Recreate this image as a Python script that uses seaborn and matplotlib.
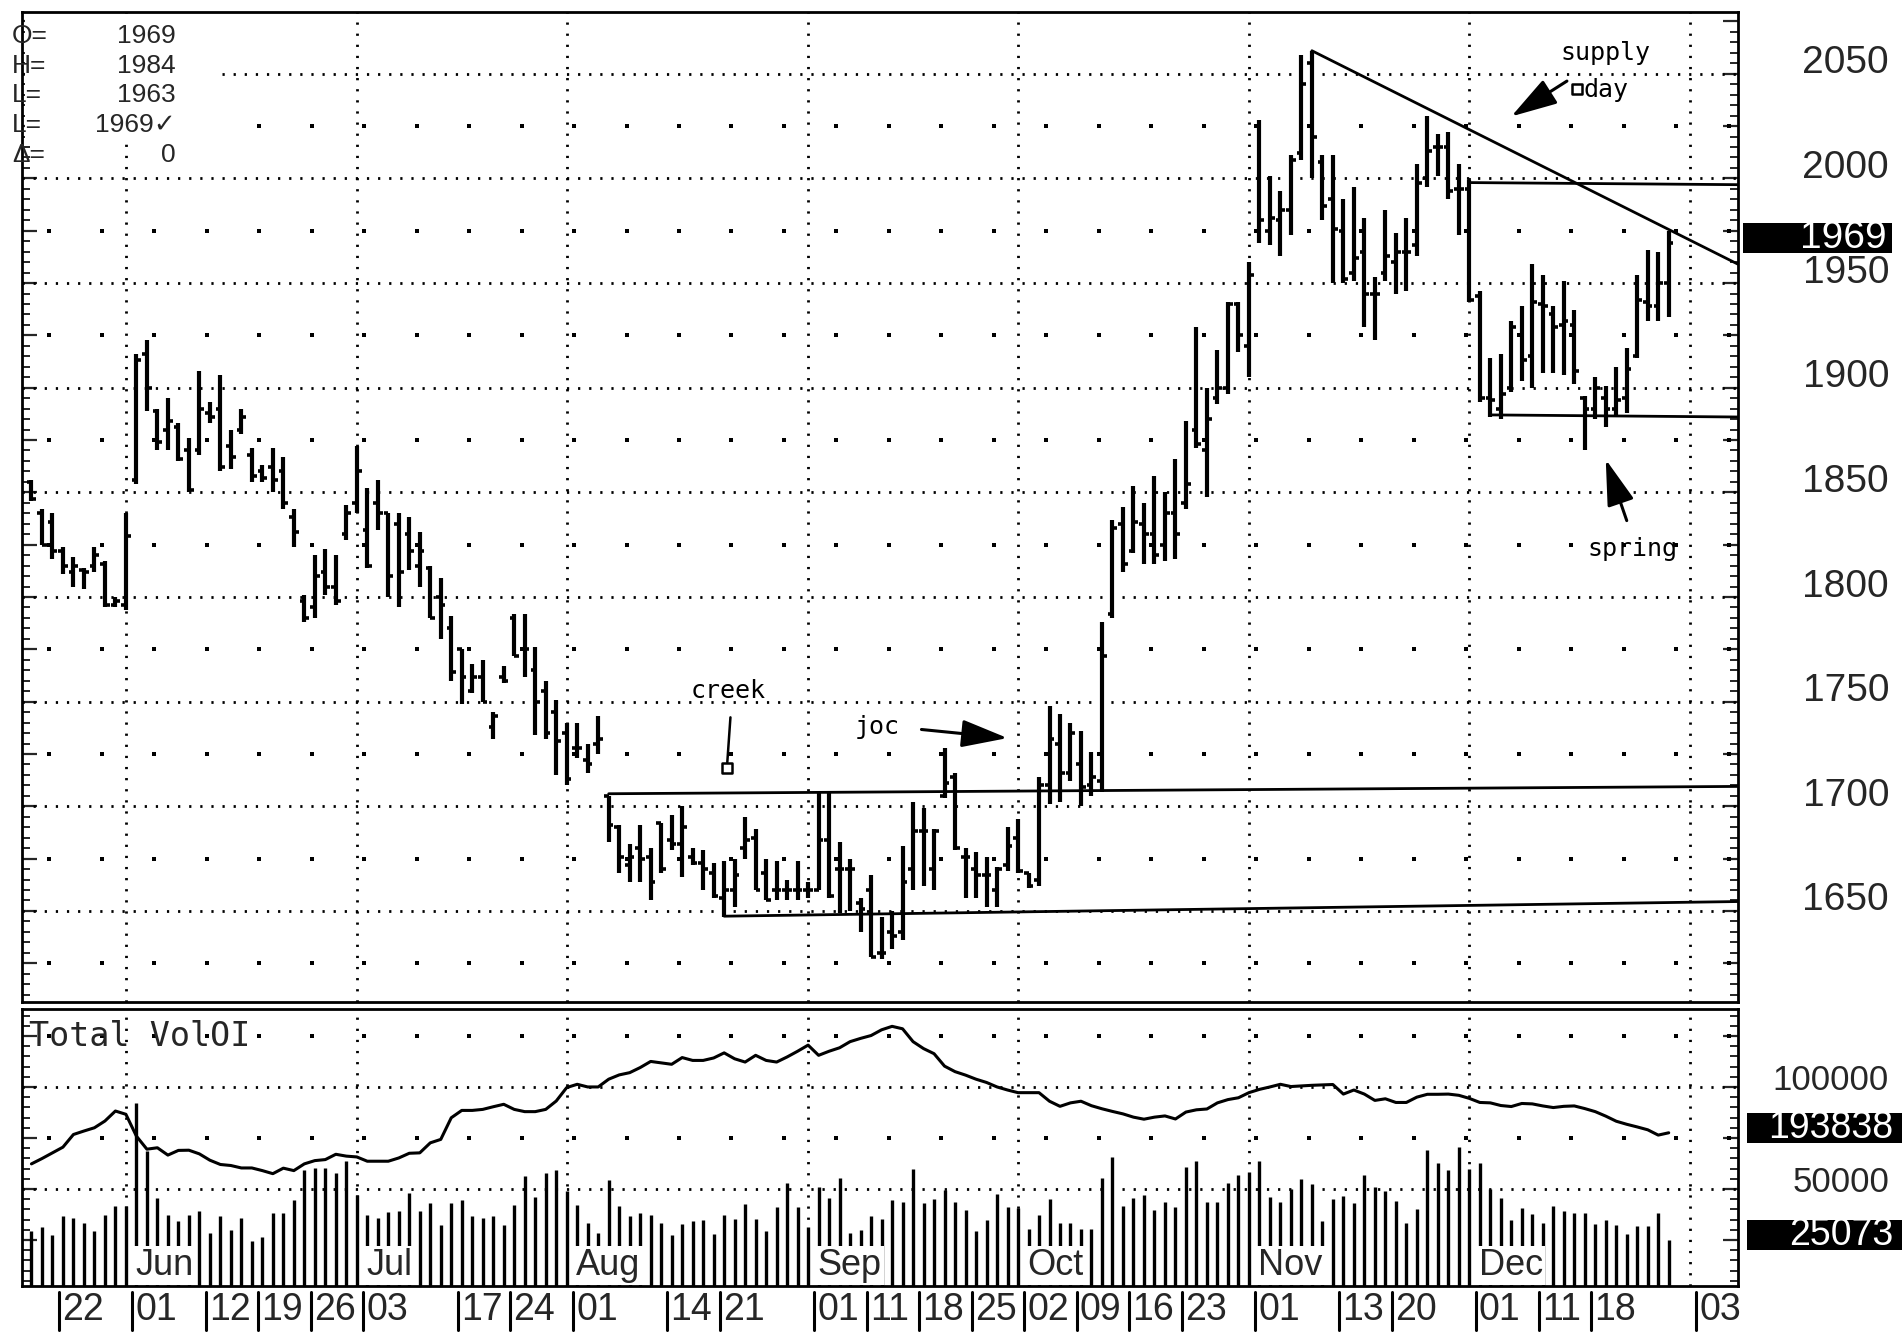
import numpy as np
import matplotlib
matplotlib.use("Agg")
import matplotlib.pyplot as plt
import matplotlib.transforms as mtransforms
from matplotlib.patches import Rectangle
from matplotlib.ticker import MultipleLocator
import seaborn as sns

sns.set_style("white")
plt.rcParams["font.family"] = ["Liberation Sans", "DejaVu Sans"]
NARROW = ["Liberation Sans Narrow", "Liberation Sans", "DejaVu Sans"]
MONO = ["DejaVu Sans Mono", "DejaVu Sans"]

# trading-day index, 0 = May 22 (market holidays skipped)
days = list(range(-2, 155))

opens = [1855, 1840, 1836, 1822, 1812, 1813, 1815, 1816, 1796, 1796, 1856, 1916,
         1889, 1880, 1881, 1870, 1870, 1888, 1890, 1872, 1880, 1868,
         1860, 1862, 1860, 1838, 1798, 1795, 1812, 1805, 1830, 1845,
         1832, 1845, 1840, 1835, 1830, 1815, 1814, 1800, 1785, 1775,
         1755, 1762, 1738, 1762, 1790, 1775, 1765, 1755, 1745, 1735,
         1728, 1722, 1730, 1705, 1690, 1672, 1680, 1676, 1692, 1684,
         1682, 1676, 1673, 1668, 1656, 1660, 1680, 1685, 1668, 1660,
         1660, 1660, 1660, 1660, 1684, 1670, 1670, 1654, 1660, 1630,
         1640, 1640, 1670, 1688, 1670, 1705, 1714, 1676, 1670, 1667,
         1660, 1672, 1685, 1668, 1665, 1710, 1730, 1716, 1720, 1710,
         1712, 1792, 1835, 1822, 1835, 1830, 1825, 1840, 1845, 1880,
         1870, 1895, 1900, 1940, 1920, 1975, 1975, 1980, 1985, 2012,
         2055, 2008, 1990, 1975, 1955, 1965, 1945, 1955, 1960, 1965,
         1968, 2000, 2015, 2015, 1995, 1995, 1944, 1895, 1890, 1900,
         1925, 1915, 1940, 1935, 1930, 1930, 1895, 1890, 1895, 1890,
         1895, 1915, 1941, 1939, 1950]
highs = [1856, 1842, 1840, 1824, 1819, 1814, 1824, 1817, 1800, 1840, 1916, 1923,
         1890, 1895, 1883, 1876, 1908, 1893, 1906, 1880, 1890, 1871,
         1863, 1871, 1867, 1842, 1801, 1820, 1823, 1820, 1844, 1872,
         1852, 1856, 1840, 1840, 1838, 1831, 1815, 1809, 1791, 1775,
         1768, 1770, 1745, 1767, 1792, 1792, 1776, 1760, 1751, 1740,
         1740, 1730, 1743, 1705, 1691, 1682, 1691, 1680, 1692, 1696,
         1700, 1680, 1679, 1673, 1674, 1675, 1695, 1689, 1675, 1674,
         1665, 1674, 1664, 1707, 1707, 1683, 1675, 1656, 1667, 1647,
         1650, 1681, 1702, 1699, 1689, 1728, 1716, 1680, 1678, 1676,
         1671, 1690, 1694, 1668, 1714, 1748, 1744, 1740, 1736, 1726,
         1788, 1837, 1843, 1853, 1845, 1858, 1850, 1866, 1884, 1929,
         1900, 1918, 1941, 1941, 1960, 2028, 2001, 1994, 2011, 2059,
         2061, 2011, 2011, 1990, 1996, 1981, 1953, 1985, 1974, 1981,
         2007, 2030, 2021, 2022, 2007, 1999, 1946, 1914, 1916, 1932,
         1939, 1959, 1954, 1939, 1951, 1937, 1896, 1905, 1901, 1910,
         1919, 1954, 1966, 1965, 1975]
lows = [1846, 1825, 1818, 1811, 1805, 1804, 1812, 1795, 1795, 1794, 1854, 1889,
        1870, 1870, 1865, 1850, 1868, 1883, 1860, 1861, 1878, 1855,
        1855, 1850, 1842, 1824, 1788, 1790, 1801, 1796, 1827, 1840,
        1814, 1832, 1800, 1795, 1813, 1805, 1790, 1780, 1760, 1749,
        1754, 1750, 1732, 1759, 1772, 1762, 1734, 1732, 1715, 1710,
        1723, 1716, 1725, 1683, 1668, 1664, 1664, 1655, 1668, 1679,
        1666, 1672, 1660, 1656, 1647, 1652, 1675, 1660, 1655, 1655,
        1655, 1655, 1656, 1660, 1656, 1649, 1650, 1640, 1628, 1627,
        1632, 1636, 1660, 1662, 1660, 1704, 1679, 1656, 1656, 1652,
        1652, 1669, 1668, 1661, 1662, 1701, 1702, 1712, 1700, 1705,
        1707, 1790, 1812, 1821, 1816, 1816, 1817, 1818, 1842, 1871,
        1848, 1892, 1897, 1917, 1905, 1969, 1968, 1963, 1973, 2009,
        2000, 1980, 1950, 1950, 1951, 1929, 1923, 1951, 1945, 1946,
        1963, 1996, 2001, 1990, 1973, 1941, 1893, 1886, 1885, 1898,
        1903, 1900, 1907, 1907, 1906, 1902, 1870, 1885, 1881, 1886,
        1888, 1914, 1932, 1932, 1934]
closes = [1847, 1825, 1822, 1815, 1815, 1812, 1820, 1796, 1798, 1829, 1913, 1900,
          1874, 1884, 1866, 1851, 1890, 1886, 1862, 1867, 1886, 1858,
          1857, 1856, 1845, 1831, 1790, 1810, 1805, 1798, 1840, 1860,
          1815, 1840, 1810, 1812, 1822, 1822, 1790, 1796, 1764, 1762,
          1762, 1750, 1743, 1760, 1772, 1775, 1750, 1735, 1731, 1713,
          1728, 1720, 1732, 1691, 1676, 1676, 1675, 1664, 1670, 1682,
          1690, 1673, 1670, 1657, 1660, 1667, 1684, 1660, 1655, 1660,
          1660, 1660, 1660, 1684, 1657, 1670, 1670, 1651, 1628, 1630,
          1638, 1664, 1688, 1688, 1688, 1711, 1680, 1676, 1667, 1667,
          1670, 1681, 1669, 1662, 1710, 1732, 1716, 1735, 1709, 1714,
          1772, 1833, 1816, 1836, 1830, 1820, 1840, 1830, 1854, 1873,
          1885, 1900, 1940, 1925, 1954, 1980, 1981, 1985, 2009, 2045,
          2020, 1987, 1976, 1952, 1962, 1945, 1945, 1963, 1965, 1965,
          1998, 2013, 2015, 1994, 1995, 1942, 1895, 1894, 1897, 1929,
          1913, 1941, 1939, 1929, 1932, 1908, 1890, 1900, 1890, 1894,
          1909, 1942, 1939, 1950, 1969]

volume = [29200, 31600, 27500, 36600, 35700, 33300, 29200, 37400, 41500, 41500, 92300, 68500,
          45600, 37400, 34100, 37400, 39000, 28400, 36600, 30000, 35700, 24300,
          26700, 38200, 38200, 44700, 59500, 60300, 60300, 57900, 63600, 47200,
          37400, 35700, 38700, 39000, 48000, 39000, 43100, 32500, 43100, 44400,
          36600, 35700, 36600, 32500, 42300, 56200, 45900, 57900, 59500, 48800,
          42300, 33300, 28400, 54600, 41500, 36600, 38200, 37400, 33300, 27500,
          33000, 34200, 34700, 28000, 37200, 35500, 42500, 35200, 29200, 41300,
          53000, 41300, 31300, 50800, 45800, 55200, 28500, 29700, 36700, 35500,
          44700, 43800, 59700, 43000, 45200, 49700, 43800, 39700, 29200, 34700,
          47500, 41000, 40500, 30500, 37200, 45200, 33300, 33300, 30500, 30500,
          55200, 65500, 41800, 45800, 47200, 39700, 43500, 41000, 60800, 63800,
          43500, 43800, 53000, 56800, 58500, 63800, 46300, 43800, 50000, 55000,
          52500, 34200, 45000, 46700, 43300, 56700, 50800, 49200, 44200, 33300,
          40000, 69200, 62500, 59200, 70800, 60000, 62800, 50000, 45500, 35000,
          40800, 37800, 33300, 41700, 39200, 38300, 38300, 32800, 35000, 32500,
          27800, 31700, 31700, 38300, 25073]

open_interest = [178600, 181200, 184000, 186800, 193000, 194700, 196300, 199600, 204500, 202900, 192200, 185800,
                 186500, 182900, 185200, 185300, 183500, 180400, 178300, 177800, 176600, 176600,
                 175300, 173800, 176500, 175300, 178600, 180200, 180700, 183300, 182400, 182000,
                 179900, 179900, 179900, 181500, 183800, 184000, 188900, 190600, 201200, 204800,
                 204800, 205300, 206600, 207800, 205300, 204200, 204200, 205300, 209400, 216000,
                 217600, 216300, 216300, 220100, 222200, 223300, 225800, 228800, 228100, 227400,
                 230700, 229300, 229300, 230500, 233000, 230100, 228500, 231800, 229300, 228500,
                 231000, 233800, 236800, 231800, 233800, 235500, 238500, 240100, 241500, 244300,
                 246000, 244800, 238500, 235100, 232600, 226500, 223800, 222100, 220100, 218500,
                 216300, 214800, 213500, 213500, 213500, 209300, 206800, 208500, 209300, 207100,
                 205600, 204300, 203100, 201500, 200500, 201500, 202100, 200600, 204000, 205100,
                 205500, 208500, 210100, 211000, 213500, 215100, 216300, 217600, 216500, 216800,
                 217100, 217300, 217500, 212800, 214800, 212800, 209700, 210500, 208700, 208700,
                 211300, 212700, 212700, 212800, 212200, 210700, 208700, 208500, 207200, 206700,
                 208200, 208000, 207000, 206200, 206800, 207000, 205700, 204200, 202000, 199500,
                 198000, 196700, 195300, 192700, 193838]

tick_days = [0, 7, 14, 19, 24, 29, 38, 43, 49, 58, 63, 72, 77, 82, 87,
             92, 97, 102, 107, 114, 122, 127, 135, 141, 146, 156]
tick_text = ["22", "01", "12", "19", "26", "03", "17", "24", "01", "14", "21", "01", "11", "18", "25",
             "02", "09", "16", "23", "01", "13", "20", "01", "11", "18", "03"]
month_days = [7, 29, 49, 72, 92, 114, 135]
month_names = ["Jun", "Jul", "Aug", "Sep", "Oct", "Nov", "Dec"]
grid_days = month_days + [156]
price_levels = [1650, 1700, 1750, 1800, 1850, 1900, 1950, 2000, 2050]
vol_levels = [50000, 100000]

readout_keys = ["O=", "H=", "L=", "L=", "Δ="]
readout_vals = ["1969", "1984", "1963", "1969✓", "0"]

OI_SHIFT = 116300
W, H = 1902, 1334
fig = plt.figure(figsize=(W / 100, H / 100), dpi=100)
ax = fig.add_axes([22 / W, 1 - 1002 / H, 1716 / W, 990 / H])
axv = fig.add_axes([22 / W, 1 - 1286 / H, 1716 / W, 277 / H])

DOT = dict(color="black", lw=2.0, ls=(0, (0.8, 3.2)), zorder=1)
x = np.array(days)

# ---- price panel
for p in price_levels:
    ax.axhline(p, **DOT)
for d in grid_days:
    ax.axvline(d, **DOT)
    axv.axvline(d, **DOT)
dot_x = np.arange(-0.3, 160, 5)
for p in range(1625, 2050, 50):
    ax.scatter(dot_x, [p] * len(dot_x), marker="s", s=9, color="black", zorder=1, linewidths=0)

# blank area behind the readout block
ax.add_patch(Rectangle((0.002, 0.868), 0.113, 0.13, transform=ax.transAxes,
                       facecolor="white", edgecolor="none", zorder=2))

ax.vlines(x, lows, highs, color="black", lw=3.0, zorder=3)
ax.hlines(opens, x - 0.45, x, color="black", lw=2.6, zorder=3)
ax.hlines(closes, x, x + 0.45, color="black", lw=2.6, zorder=3)

LINE = dict(color="black", lw=2.0, zorder=3)
ax.plot([120, 160.6], [2061, 1959], **LINE)
ax.plot([135, 160.6], [1998, 1997], **LINE)
ax.plot([137, 160.6], [1887, 1886], **LINE)
ax.plot([53, 160.6], [1706, 1709.5], **LINE)
ax.plot([64, 160.6], [1647.5, 1654.5], **LINE)

ax.set_xlim(-2.9, 160.6)
ax.set_ylim(1606.5, 2079.5)
ax.yaxis.set_major_locator(MultipleLocator(25))
ax.yaxis.set_minor_locator(MultipleLocator(5))
ax.tick_params(axis="y", which="major", direction="in", length=11, width=1.6,
               left=True, right=True, labelleft=False, labelright=False)
ax.tick_params(axis="y", which="minor", direction="in", length=6, width=1.4, left=True, right=True)
ax.tick_params(axis="x", which="both", bottom=False, top=False, labelbottom=False)
for s in ax.spines.values():
    s.set_linewidth(2)
    s.set_color("black")

# annotations
ANN = dict(family=MONO, fontsize=18, color="black", zorder=6)
HEAD = dict(arrowstyle="-|>,head_length=1.5,head_width=0.45", color="black", lw=2.2,
            mutation_scale=19, shrinkA=0, shrinkB=0)
ax.text(148.0, 2059.7, "supply", ha="center", va="center", **ANN)
ax.text(145.9, 2042.0, "day", ha="left", va="center", **ANN)
ax.scatter([145.3], [2042.5], marker="s", s=45, facecolors="white", edgecolors="black", linewidths=1.8, zorder=6)
ax.annotate("", xy=(139.0, 2029.6), xytext=(144.3, 2046.5), arrowprops=HEAD, zorder=6)
ax.text(150.5, 1823, "spring", ha="center", va="center", **ANN)
ax.annotate("", xy=(148.0, 1865.7), xytext=(150.0, 1836.5), arrowprops=HEAD, zorder=6)
ax.text(64.4, 1755, "creek", ha="center", va="center", **ANN)
ax.plot([64.6, 64.3], [1742.5, 1721], color="black", lw=1.8, zorder=6)
ax.scatter([64.3], [1718.5], marker="s", s=45, facecolors="white", edgecolors="black", linewidths=1.8, zorder=6)
ax.text(78.6, 1738, "joc", ha="center", va="center", **ANN)
ax.annotate("", xy=(91.0, 1732.6), xytext=(82.8, 1736.7), arrowprops=HEAD, zorder=6)

# readout block
for i, (k, v) in enumerate(zip(readout_keys, readout_vals)):
    yy = 1 - (36 + 29.7 * i) / H
    fig.text(12 / W, yy, k, ha="left", va="center", fontsize=19, family=NARROW)
    fig.text(176 / W, yy, v, ha="right", va="center", fontsize=19, family=NARROW)

tp = mtransforms.blended_transform_factory(fig.transFigure, ax.transData)
for p in price_levels:
    fig.text(1889 / W, p + 5, str(p), transform=tp, ha="right", va="center", fontsize=28)
fig.add_artist(Rectangle((1743 / W, 1971.5 - 7), 149 / W, 14, transform=tp,
                         facecolor="black", edgecolor="none"))
fig.text(1887 / W, 1971.5, "1969", transform=tp, ha="right", va="center",
         fontsize=28, color="white")

# ---- volume / open interest panel
ax_oi = axv.twinx()
for v in vol_levels:
    axv.axhline(v, **DOT)
for v in [75000, 125000]:
    axv.scatter(dot_x, [v] * len(dot_x), marker="s", s=9, color="black", zorder=1, linewidths=0)
axv.vlines(x, 0, volume, color="black", lw=2.4, zorder=3)
sns.lineplot(x=days, y=open_interest, ax=ax_oi, color="black", lw=2.2)

axv.set_xlim(-2.9, 160.6)
axv.set_ylim(2450, 138200)
ax_oi.set_ylim(2450 + OI_SHIFT, 138200 + OI_SHIFT)
ax_oi.set_axis_off()
axv.yaxis.set_major_locator(MultipleLocator(25000))
axv.yaxis.set_minor_locator(MultipleLocator(5000))
axv.tick_params(axis="y", which="major", direction="in", length=11, width=1.6,
                left=True, right=True, labelleft=False, labelright=False)
axv.tick_params(axis="y", which="minor", direction="in", length=6, width=1.4, left=True, right=True)
axv.tick_params(axis="x", which="both", bottom=False, top=False, labelbottom=False)
for s in axv.spines.values():
    s.set_linewidth(2)
    s.set_color("black")

axv.text(0.004, 0.9, "Total VolOI", transform=axv.transAxes, ha="left", va="center",
         family=MONO, fontsize=24, zorder=6)

bt = mtransforms.blended_transform_factory(axv.transData, axv.transAxes)
for m, name in zip(month_days, month_names):
    axv.text(m + 0.9, 0.075, name, transform=bt, ha="left", va="center", fontsize=26,
             family=NARROW, zorder=6,
             bbox=dict(facecolor="white", edgecolor="none", pad=1.5))
for d, t in zip(tick_days, tick_text):
    axv.plot([d + 0.6, d + 0.6], [-0.02, -0.16], transform=bt, clip_on=False,
             color="black", lw=2.2)
    axv.text(d + 0.9, -0.085, t, transform=bt, ha="left", va="center", fontsize=27,
             family=NARROW, clip_on=False)

tv = mtransforms.blended_transform_factory(fig.transFigure, axv.transData)
for v in vol_levels:
    fig.text(1889 / W, v + 3000, str(v), transform=tv, ha="right", va="center", fontsize=25)
for val, vc in [("193838", 80000), ("25073", 27500)]:
    fig.add_artist(Rectangle((1747 / W, vc - 7350), 155 / W, 14700, transform=tv,
                             facecolor="black", edgecolor="none"))
    fig.text(1893 / W, vc, val, transform=tv, ha="right", va="center", fontsize=27, color="white")

fig.savefig("out.png", dpi=100)
